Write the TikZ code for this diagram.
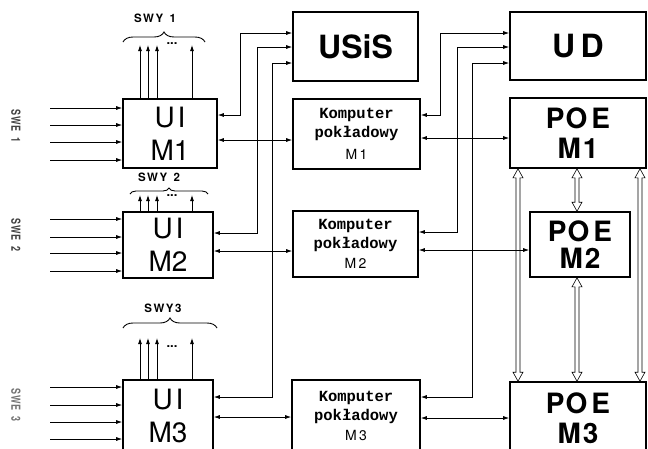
\documentclass[tikz,border=0pt]{standalone}
\usepackage{fontspec}
\setmainfont{TeX Gyre Heros}
\newfontfamily\monof{Liberation Mono}
\usetikzlibrary{arrows.meta,calc,decorations.pathreplacing}
\begin{document}
\begin{tikzpicture}[x=1pt,y=-1pt,
  box/.style={draw, line width=1.6pt, inner sep=0pt, align=center},
  conn/.style={line width=0.8pt, {Latex[length=6pt,width=4pt]}-{Latex[length=6pt,width=4pt]}},
  inp/.style={line width=0.8pt, -{Latex[length=6pt,width=4pt]}},
  brc/.style={decorate, decoration={brace, amplitude=#1}, line width=0.9pt},
  hol/.style={draw, line width=0.6pt, fill=white,
    to path={let \p1=(\tikztostart), \p2=(\tikztotarget) in
      (\x1,\y1) -- (\x1-5pt,\y1-9pt) -- (\x1-2pt,\y1-9pt) -- (\x2-2pt,\y2+9pt)
      -- (\x2-5pt,\y2+9pt) -- (\x2,\y2) -- (\x2+5pt,\y2+9pt) -- (\x2+2pt,\y2+9pt)
      -- (\x1+2pt,\y1-9pt) -- (\x1+5pt,\y1-9pt) -- cycle}},
  uifont/.style={font=\fontsize{28}{33}\selectfont},
  poefont/.style={font=\bfseries\fontsize{28}{30}\selectfont},
  poefonts/.style={font=\bfseries\fontsize{28}{27.5}\selectfont},
  kfont/.style={font=\monof\bfseries\fontsize{15.5}{19}\selectfont},
  swy/.style={font=\bfseries\fontsize{11.5}{12}\selectfont},
  swe/.style={font=\bfseries\fontsize{12.5}{13}\selectfont, text=black!75, rotate=-90, xscale=0.72},
  dots/.style={font=\bfseries\fontsize{13}{13}\selectfont, inner sep=0pt, anchor=base}
]
\useasboundingbox (0,0) rectangle (648,448);

% boxes
\node[box, minimum width=94pt, minimum height=69pt, uifont] (UI1) at (170,133.5) {U\kern3pt I\\M1};
\node[box, minimum width=90pt, minimum height=66pt, uifont] (UI2) at (168,245) {U\kern3pt I\\M2};
\node[box, minimum width=90pt, minimum height=72pt, uifont] (UI3) at (168,416) {U\kern3pt I\\M3};

\node[box, minimum width=125pt, minimum height=69pt, font=\bfseries\fontsize{32}{36}\selectfont] (USiS) at (355.5,46.5) {USiS};
\node[box, minimum width=127pt, minimum height=70pt, kfont] (K1) at (356.5,134) {Komputer\\pokładowy\\[3pt]{\rmfamily\mdseries\fontsize{14}{16}\selectfont M\,1}};
\node[box, minimum width=125pt, minimum height=66pt, kfont] (K2) at (355.5,244) {Komputer\\pokładowy\\[1pt]{\rmfamily\mdseries\fontsize{14}{16}\selectfont M\,2}};
\node[box, minimum width=128pt, minimum height=72pt, kfont] (K3) at (356,416) {Komputer\\pokładowy\\[1pt]{\rmfamily\mdseries\fontsize{14}{16}\selectfont M\,3}};

\node[box, minimum width=136pt, minimum height=68pt, font=\bfseries\fontsize{32}{36}\selectfont] (UD) at (578,46) {U\,D};
\node[box, minimum width=136pt, minimum height=70pt, poefont] (POE1) at (578,133) {P\kern1pt O\kern4pt E\\M\kern2pt 1};
\node[box, minimum width=100pt, minimum height=65pt, poefonts] (POE2) at (580,244.5) {P\kern1pt O\kern4pt E\\M\kern2pt 2};
\node[box, minimum width=136pt, minimum height=72pt, poefont] (POE3) at (578,418) {P\kern1pt O\kern4pt E\\M\kern2pt 3};

% hollow buses between POE blocks
\draw[hol] (POE1.south -| 518,0) to (POE3.north -| 518,0);
\draw[hol] (POE1.south -| 577,0) to (POE2.north -| 577,0);
\draw[hol] (POE2.south -| 577,0) to (POE3.north -| 577,0);
\draw[hol] (POE1.south -| 640,0) to (POE3.north -| 640,0);

% UI <-> USiS and UI <-> Komputer
\draw[conn] (UI1.east |- 0,115) -| (240,33) -- (USiS.west |- 0,33);
\draw[conn] (UI1.east |- 0,140) -- (K1.west |- 0,140);
\draw[conn] (UI2.east |- 0,233) -| (257,47) -- (USiS.west |- 0,47);
\draw[conn] (UI2.east |- 0,251) -- (K2.west |- 0,251);
\draw[conn] (UI3.east |- 0,397) -| (272,63) -- (USiS.west |- 0,63);
\draw[conn] (UI3.east |- 0,417) -- (K3.west |- 0,417);

% Komputer <-> UD and Komputer <-> POE
\draw[conn] (K1.east |- 0,115) -| (440,33) -- (UD.west |- 0,33);
\draw[conn] (K1.east |- 0,138) -- (POE1.west |- 0,138);
\draw[conn] (K2.east |- 0,232) -| (457,47) -- (UD.west |- 0,47);
\draw[conn] (K2.east |- 0,250) -- (POE2.west |- 0,250);
\draw[conn] (K3.east |- 0,397) -| (472,63) -- (UD.west |- 0,63);
\draw[conn] (K3.east |- 0,418) -- (POE3.west |- 0,418);

% inputs SWE
\foreach \y in {108,125,142,160} \draw[inp] (50,\y) -- (UI1.west |- 0,\y);
\foreach \y in {219,237,253,271} \draw[inp] (50,\y) -- (UI2.west |- 0,\y);
\foreach \y in {387,405,422,439} \draw[inp] (50,\y) -- (UI3.west |- 0,\y);

\node[swe] (swe1) at (16,126) {S\kern1pt W\kern1pt E\kern9pt 1};
\node[swe] (swe2) at (16,235) {S\kern1pt W\kern1pt E\kern9pt 2};
\node[swe, text=black!55] (swe3) at (16,405) {S\kern1pt W\kern1pt E\kern9pt 3};

% outputs SWY
\foreach \x in {140,148,157,192} \draw[inp] (UI1.north -| \x,0) -- (\x,45);
\foreach \x in {140,148,157,192} \draw[inp] (UI2.north -| \x,0) -- (\x,195);
\foreach \x in {140,148,157,192} \draw[inp] (UI3.north -| \x,0) -- (\x,338);

\node[dots] (d1) at (172,44) {...};
\node[dots] (d2) at (172,196) {...};
\node[dots] (d3) at (172,347) {...};

\draw[brc=10pt] (123,42) -- (205,42);
\draw[brc=6pt] (130,194) -- (208,194);
\draw[brc=10pt] (123,328) -- (217,328);

\node[swy] (swy1) at (155,18) {S\kern1.5pt W\kern1.5pt Y\ \ 1};
\node[swy] (swy2) at (159,177) {S\kern1.5pt W\kern1.5pt Y\ \ 2};
\node[swy] (swy3) at (163,308) {S\kern1.5pt W\kern1.5pt Y\kern1.5pt 3};
\end{tikzpicture}
\end{document}
